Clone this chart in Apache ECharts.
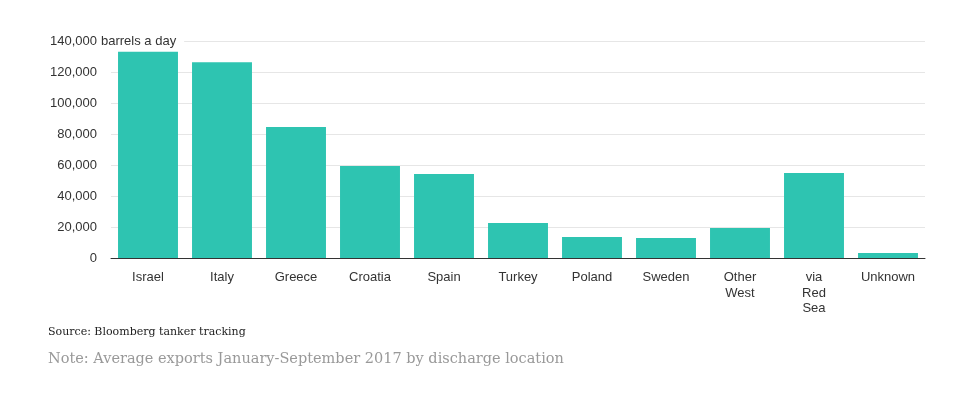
<!DOCTYPE html>
<html><head><meta charset="utf-8">
<script src="https://cdn.jsdelivr.net/npm/echarts@6/dist/echarts.min.js"></script>
<style>html,body{margin:0;padding:0;background:#fff}#c{width:970px;height:396px}</style>
</head><body><div id="c"></div>
<script>
const categories = ['Israel','Italy','Greece','Croatia','Spain','Turkey','Poland','Sweden','Other\nWest','via\nRed\nSea','Unknown'];
const values = [133000,126300,84500,59400,54200,22600,13500,12900,19400,54800,3200];
const yTicks = [0,20000,40000,60000,80000,100000,120000,140000];
const unitLabel = 'barrels a day';
const sourceText = 'Source: Bloomberg tanker tracking';
const noteText = 'Note: Average exports January-September 2017 by discharge location';

const chart = echarts.init(document.getElementById('c'));
chart.setOption({
  animation:false,
  grid:{left:111,right:45,top:41,bottom:138},
  xAxis:{type:'category',data:categories,
    axisLine:{lineStyle:{color:'#333',width:1}},
    axisTick:{alignWithLabel:true,length:5,lineStyle:{color:'#333'}},
    axisLabel:{color:'#333',fontFamily:'Liberation Sans',fontSize:13,margin:12,lineHeight:15.5,interval:0}},
  yAxis:{type:'value',min:yTicks[0],max:yTicks[yTicks.length-1],interval:20000,
    axisLine:{show:false},axisTick:{show:false},
    splitLine:{lineStyle:{color:'#e6e6e6'}},
    axisLabel:{color:'#333',fontFamily:'Liberation Sans',fontSize:13,margin:14,
      formatter:v=>v.toLocaleString('en-US')}},
  series:[{type:'bar',data:values,barCategoryGap:'19%',itemStyle:{color:'#2ec4b1'}}],
  graphic:[
    {type:'text',x:101,y:41,z:100,zlevel:0,style:{text:unitLabel,fill:'#333',font:'13px "Liberation Sans"',verticalAlign:'middle',backgroundColor:'#fff',padding:[2,8,2,0]}},
    {type:'text',left:48,top:327,style:{text:sourceText,fill:'#222',font:'11px "DejaVu Serif"'}},
    {type:'text',left:48,top:352,style:{text:noteText,fill:'#999',font:'14.5px "DejaVu Serif"'}}
  ]
});
</script></body></html>
